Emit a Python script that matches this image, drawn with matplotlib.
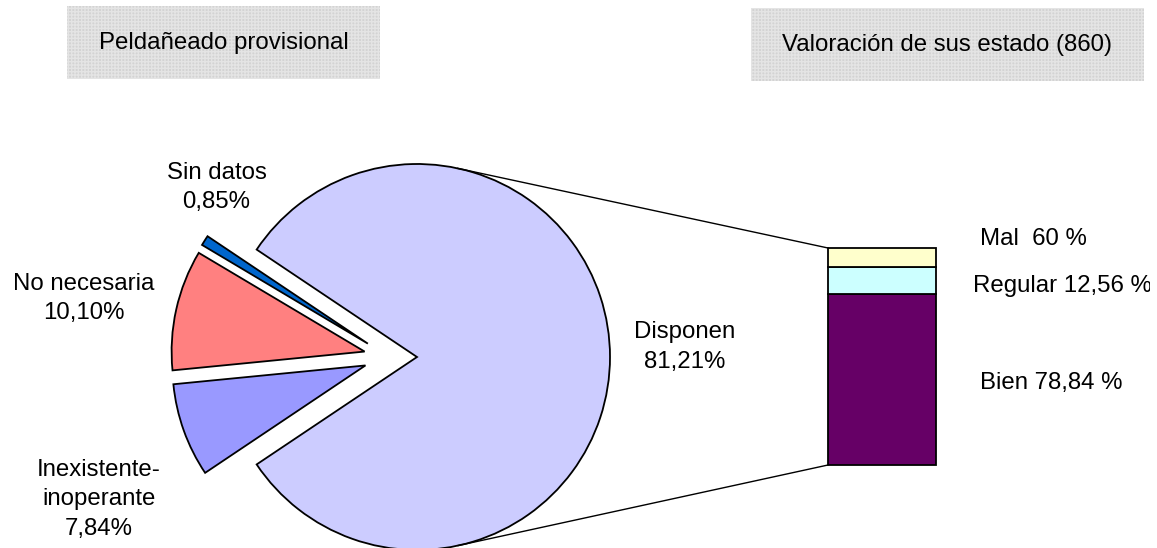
import math
import matplotlib
matplotlib.use("Agg")
import matplotlib.pyplot as plt
from matplotlib.patches import Rectangle
from matplotlib.transforms import Bbox

plt.rcParams['font.family'] = ['Liberation Sans', 'DejaVu Sans']

# ---- data ----
pie_labels = ["Disponen", "Sin datos", "No necesaria", "Inexistente-\ninoperante"]
pie_values = [81.21, 0.85, 10.10, 7.84]
pie_value_text = ["81,21%", "0,85%", "10,10%", "7,84%"]
pie_colors = ["#CCCCFF", "#0066CC", "#FF8080", "#9999FF"]

bar_labels = ["Bien", "Regular", "Mal"]
bar_values = [78.84, 12.56, 8.60]
bar_value_text = ["Bien 78,84 %", "Regular 12,56 %", "Mal  60 %"]
bar_colors = ["#660066", "#CCFFFF", "#FFFFCC"]

title_left = "Peldañeado provisional"
title_right = "Valoración de sus estado (860)"

W, H = 1157, 548
fig = plt.figure(figsize=(W / 100, H / 100), dpi=100)
ax = fig.add_axes([0, 0, 1, 1])

FS = 17.3
R = 193
wedges, _ = ax.pie(pie_values, colors=pie_colors, startangle=-pie_values[0] / 100 * 360 / 2,
                   counterclock=True, radius=R, center=(389, 191),
                   explode=[28, 25, 25, 25],
                   wedgeprops=dict(edgecolor="black", linewidth=1.3))
ax.set_xlim(0, W)
ax.set_ylim(0, H)
ax.set_aspect('auto')
ax.axis('off')

label_pos = [(685, 201), (216.5, 360.5), (84, 249.5), (99, 48.5)]
for lab, vt, (x, y) in zip(pie_labels, pie_value_text, label_pos):
    ax.text(x, y, f"{lab}\n{vt}", ha="center", va="center", fontsize=FS,
            linespacing=1.42, color="black")

# ---- title boxes ----
for (x0, y0, w, h), txt in [((67, 469, 313, 73), title_left),
                            ((751, 467, 393, 73), title_right)]:
    ax.add_patch(Rectangle((x0, y0), w, h, facecolor="#d3d3d3", edgecolor="#e4e4e4",
                           hatch="+++++", linewidth=0))
    ax.text(x0 + w / 2, y0 + h / 2, txt, ha="center", va="center", fontsize=FS)

# ---- stacked bar ----
bx0, by0, bw, bh = 828, 83, 108, 217
axb = fig.add_axes([bx0 / W, by0 / H, bw / W, bh / H])
bottom = 0
for v, c in zip(bar_values, bar_colors):
    axb.bar(0, v, bottom=bottom, width=1, color=c, edgecolor="black",
            linewidth=1.3, clip_on=False)
    bottom += v
axb.set_xlim(-0.5, 0.5)
axb.set_ylim(0, sum(bar_values))
axb.axis('off')

label_xy = [(980, 159), (973, 256), (980, 303)]
clip = Bbox.from_extents(0, 0, 1150, H)
for t, (x, y) in zip(bar_value_text, label_xy):
    tx = ax.text(x, y, t, ha="left", va="baseline", fontsize=FS, clip_on=True)
    tx.set_clip_box(clip)

# ---- connector lines (tangent from bar corners to main wedge) ----
fig.canvas.draw()
cx, cy = wedges[0].center
inv = ax.transData.inverted()
for yv, sign in [(sum(bar_values), 1), (0, -1)]:
    px, py = inv.transform(axb.transData.transform((-0.5, yv)))
    vx, vy = px - cx, py - cy
    d = math.hypot(vx, vy)
    phi = math.atan2(vy, vx)
    a = phi + sign * math.acos(R / d)
    tx_, ty_ = cx + R * math.cos(a), cy + R * math.sin(a)
    ax.plot([tx_, px], [ty_, py], color="black", linewidth=1)

fig.savefig("out.png", dpi=100)
